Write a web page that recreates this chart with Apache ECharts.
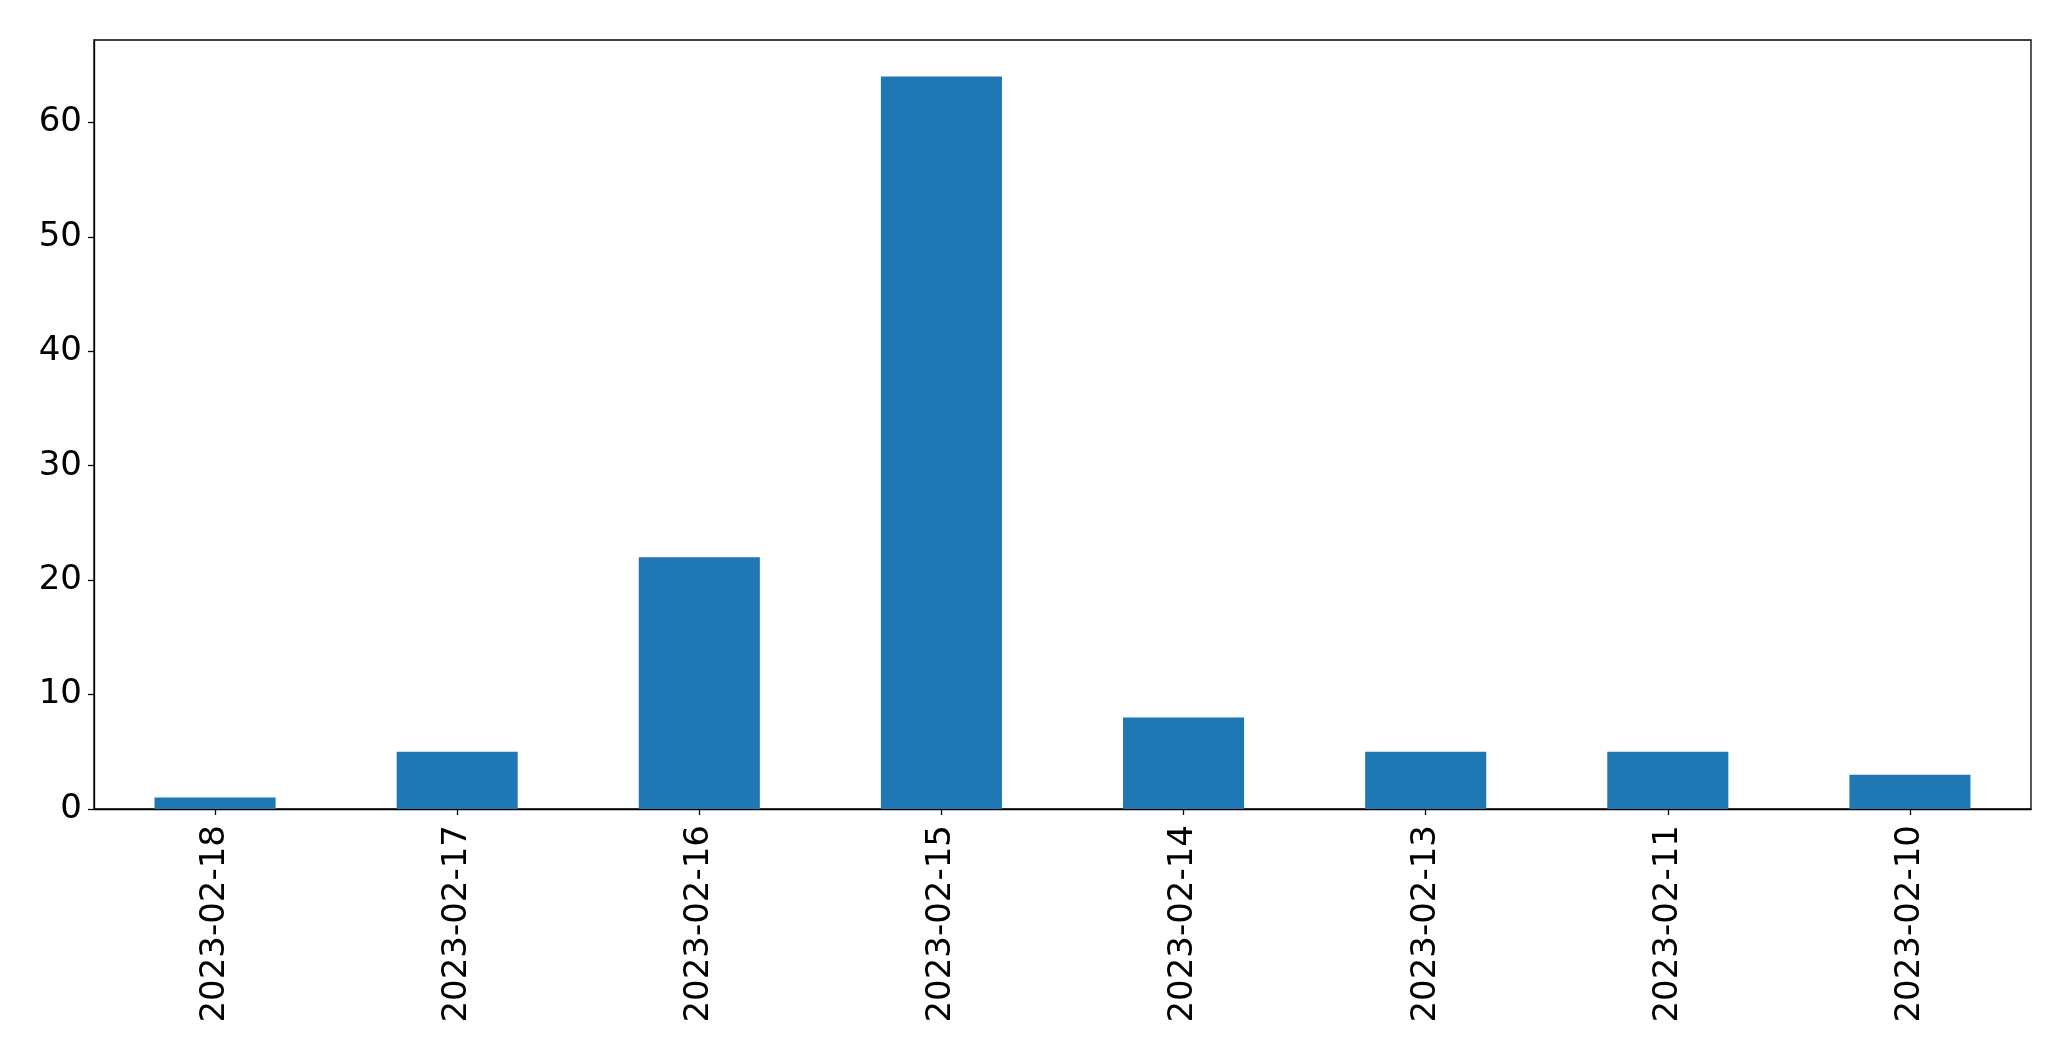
<!DOCTYPE html>
<html>
<head>
<meta charset="utf-8">
<script src="https://cdn.jsdelivr.net/npm/echarts@6/dist/echarts.min.js"></script>
<style>
html,body{margin:0;padding:0;background:#fff;}
#chart{width:2071px;height:1061px;}
</style>
</head>
<body>
<div id="chart"></div>
<script>
const categories = ['2023-02-18','2023-02-17','2023-02-16','2023-02-15','2023-02-14','2023-02-13','2023-02-11','2023-02-10'];
const values = [1, 5, 22, 64, 8, 5, 5, 3];
const yTicks = [0, 10, 20, 30, 40, 50, 60];

const chart = echarts.init(document.getElementById('chart'), null, {renderer: 'canvas'});
const font = 'DejaVu Sans';
chart.setOption({
  animation: false,
  backgroundColor: '#ffffff',
  grid: {
    left: 94, right: 40, top: 40, bottom: 252,
    show: true, borderColor: '#000', borderWidth: 1.3, backgroundColor: 'transparent'
  },
  xAxis: {
    type: 'category',
    data: categories,
    boundaryGap: true,
    axisLine: {show: true, lineStyle: {color: '#000', width: 1.3}},
    axisTick: {show: true, alignWithLabel: true, length: 6, lineStyle: {color: '#000', width: 1.3}},
    axisLabel: {rotate: 90, margin: 16, color: '#000', fontFamily: font, fontSize: 34, interval: 0}
  },
  yAxis: {
    type: 'value',
    min: 0,
    max: 67.2,
    interval: 10,
    axisLine: {show: true, lineStyle: {color: '#000', width: 1.3}},
    axisTick: {show: true, length: 6, lineStyle: {color: '#000', width: 1.3}},
    axisLabel: {
      margin: 12, color: '#000', fontFamily: font, fontSize: 34, showMaxLabel: false,
      formatter: function (v) { return yTicks.indexOf(v) >= 0 ? String(v) : ''; }
    },
    splitLine: {show: false}
  },
  series: [{
    type: 'bar',
    data: values,
    barWidth: '50%',
    itemStyle: {color: '#1f77b4'}
  }]
});
</script>
</body>
</html>
